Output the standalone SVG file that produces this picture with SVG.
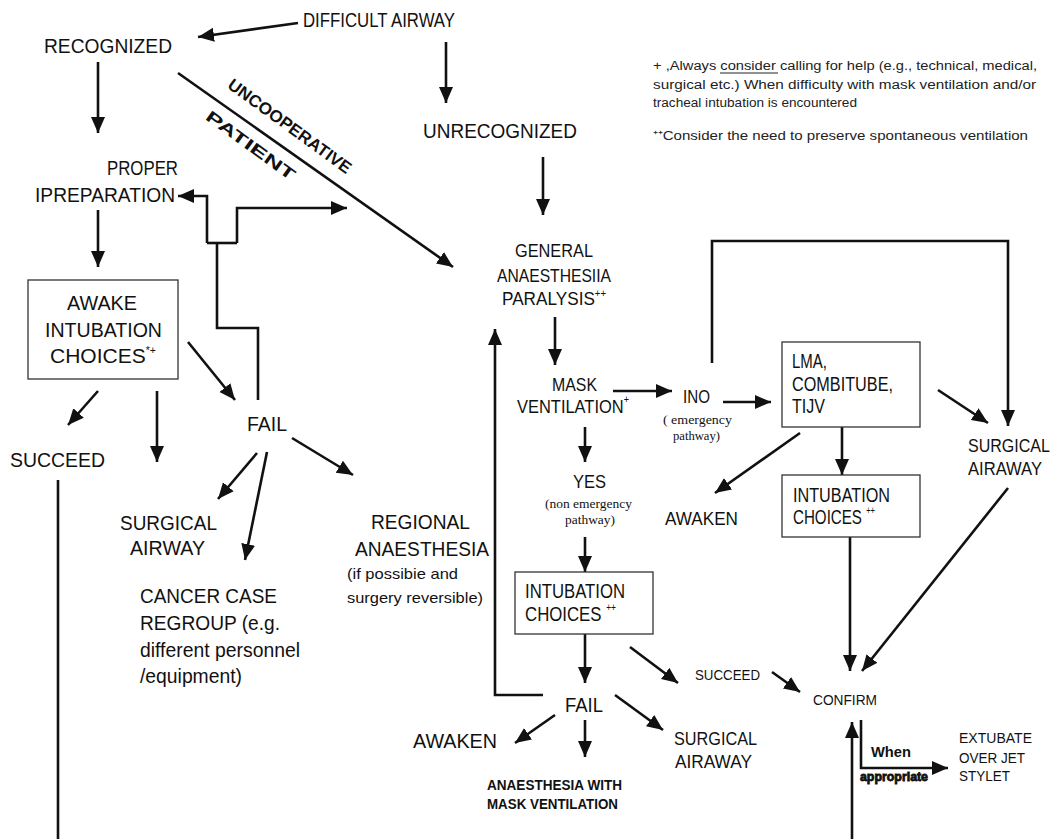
<svg xmlns="http://www.w3.org/2000/svg" width="1062" height="839" viewBox="0 0 1062 839">
<style>
text{font-family:"Liberation Sans",Arial,sans-serif;fill:#111}
.t{font-size:20px}
.m{font-size:18px}
.s{font-size:15px}
.sm{font-size:14px}
.b{font-weight:bold}
.sup{font-size:10px}
.sf{font-family:"Liberation Serif","Times New Roman",serif;font-size:13px}
.note{font-size:12.5px;fill:#222}
.ln{fill:none;stroke:#111;stroke-width:2.6}
.ar{fill:none;stroke:#111;stroke-width:2.6;marker-end:url(#ah)}
.box{fill:#fff;stroke:#333;stroke-width:1.3}
</style>
<defs>
<marker id="ah" markerWidth="17" markerHeight="15" refX="16" refY="7" orient="auto" markerUnits="userSpaceOnUse"><path d="M0,0 L16,7 L0,14 z" fill="#111"/></marker>
</defs>
<rect width="1062" height="839" fill="#fff"/>

<g id="connectors">
<line class="ar" x1="298" y1="23" x2="198" y2="37"/>
<line class="ar" x1="446" y1="42" x2="446" y2="103"/>
<line class="ar" x1="98" y1="62" x2="98" y2="133"/>
<line class="ar" x1="178" y1="73" x2="453" y2="267"/>
<line class="ar" x1="543" y1="157" x2="543" y2="215"/>
<line class="ar" x1="98" y1="210" x2="98" y2="267"/>
<polyline class="ln" points="258,400 258,328 217,328 217,243"/>
<polyline class="ln" points="237,243 207,243"/>
<polyline class="ar" points="207,243 207,196 178,196"/>
<polyline class="ar" points="237,243 237,208 347,208"/>
<line class="ar" x1="188" y1="342" x2="235" y2="400"/>
<line class="ar" x1="98" y1="391" x2="68" y2="425"/>
<line class="ar" x1="157" y1="391" x2="157" y2="462"/>
<line class="ln" x1="58" y1="480" x2="58" y2="839"/>
<line class="ar" x1="257" y1="453" x2="218" y2="499"/>
<line class="ar" x1="267" y1="452" x2="245" y2="560"/>
<line class="ar" x1="292" y1="438" x2="353" y2="475"/>
<line class="ar" x1="555" y1="317" x2="555" y2="365"/>
<polyline class="ar" points="543,695 495,695 495,329"/>
<line class="ar" x1="613" y1="391" x2="672" y2="391"/>
<line class="ar" x1="585" y1="427" x2="585" y2="462"/>
<line class="ar" x1="585" y1="537" x2="585" y2="572"/>
<line class="ar" x1="723" y1="402" x2="771" y2="402"/>
<polyline class="ar" points="712,363 712,241 1008,241 1008,426"/>
<line class="ar" x1="938" y1="390" x2="988" y2="423"/>
<line class="ar" x1="800" y1="433" x2="715" y2="493"/>
<line class="ar" x1="842" y1="427" x2="842" y2="475"/>
<line class="ar" x1="850" y1="537" x2="850" y2="671"/>
<line class="ar" x1="1008" y1="488" x2="862" y2="671"/>
<line class="ar" x1="585" y1="634" x2="585" y2="683"/>
<line class="ar" x1="630" y1="647" x2="678" y2="683"/>
<line class="ar" x1="555" y1="715" x2="515" y2="743"/>
<line class="ar" x1="585" y1="720" x2="585" y2="757"/>
<line class="ar" x1="615" y1="695" x2="663" y2="730"/>
<line class="ar" x1="772" y1="672" x2="800" y2="692"/>
<line class="ar" x1="852" y1="839" x2="852" y2="722"/>
<polyline class="ar" points="861,720 861,768 948,768"/>
<text class="b" font-size="17" transform="translate(290,126) rotate(36)" text-anchor="middle" y="6" textLength="148" lengthAdjust="spacingAndGlyphs">UNCOOPERATIVE</text>
<text class="b" font-size="16" transform="translate(251,145) rotate(36)" text-anchor="middle" y="6" textLength="106" lengthAdjust="spacingAndGlyphs">PATIENT</text>
<text class="sm b" x="871" y="757" textLength="40" lengthAdjust="spacingAndGlyphs">When</text>
<text class="b" font-size="12" x="860" y="781" textLength="68" lengthAdjust="spacingAndGlyphs" stroke="#111" stroke-width="0.8">appropriate</text>
</g>

<g id="n-difficult"><text class="t" x="303" y="27" textLength="152" lengthAdjust="spacingAndGlyphs">DIFFICULT AIRWAY</text></g>
<g id="n-recognized"><text class="t" x="44" y="53" textLength="128" lengthAdjust="spacingAndGlyphs">RECOGNIZED</text></g>
<g id="n-unrecognized"><text class="t" x="423" y="138" textLength="154" lengthAdjust="spacingAndGlyphs">UNRECOGNIZED</text></g>

<g id="n-note">
<text class="note" x="653" y="70" textLength="384" lengthAdjust="spacingAndGlyphs">+ ,Always consider calling for help (e.g., technical, medical,</text>
<line x1="720" y1="73" x2="778" y2="73" stroke="#222" stroke-width="1"/>
<text class="note" x="653" y="89" textLength="383" lengthAdjust="spacingAndGlyphs">surgical etc.) When difficulty with mask ventilation and/or</text>
<text class="note" x="653" y="107" textLength="204" lengthAdjust="spacingAndGlyphs">tracheal intubation is encountered</text>
<text class="note" x="653" y="140" textLength="375" lengthAdjust="spacingAndGlyphs">⁺⁺Consider the need to preserve spontaneous ventilation</text>
</g>

<g id="n-preparation">
<text class="t" x="107" y="175" textLength="71" lengthAdjust="spacingAndGlyphs">PROPER</text>
<text class="t" x="35" y="202" textLength="140" lengthAdjust="spacingAndGlyphs">IPREPARATION</text>
</g>

<g id="n-awake">
<rect class="box" x="28" y="280" width="150" height="99"/>
<text class="t" x="67" y="310" textLength="70" lengthAdjust="spacingAndGlyphs">AWAKE</text>
<text class="t" x="45" y="337" textLength="117" lengthAdjust="spacingAndGlyphs">INTUBATION</text>
<text class="t" x="50" y="363" textLength="106" lengthAdjust="spacingAndGlyphs">CHOICES<tspan class="sup" dy="-9">*+</tspan></text>
</g>

<g id="n-fail1"><text class="t" x="247" y="431" textLength="40" lengthAdjust="spacingAndGlyphs">FAIL</text></g>
<g id="n-succeed1"><text class="t" x="10" y="467" textLength="95" lengthAdjust="spacingAndGlyphs">SUCCEED</text></g>
<g id="n-surgical1">
<text class="t" x="120" y="530" textLength="97" lengthAdjust="spacingAndGlyphs">SURGICAL</text>
<text class="t" x="130" y="555" textLength="75" lengthAdjust="spacingAndGlyphs">AIRWAY</text>
</g>
<g id="n-cancer">
<text class="t" x="140" y="603" textLength="137" lengthAdjust="spacingAndGlyphs">CANCER CASE</text>
<text class="t" x="140" y="630" textLength="140" lengthAdjust="spacingAndGlyphs">REGROUP (e.g.</text>
<text class="t" x="140" y="657" textLength="160" lengthAdjust="spacingAndGlyphs">different personnel</text>
<text class="t" x="140" y="683" textLength="102" lengthAdjust="spacingAndGlyphs">/equipment)</text>
</g>
<g id="n-regional">
<text class="t" x="371" y="529" textLength="99" lengthAdjust="spacingAndGlyphs">REGIONAL</text>
<text class="t" x="355" y="556" textLength="134" lengthAdjust="spacingAndGlyphs">ANAESTHESIA</text>
<text class="s" x="347" y="579" textLength="111" lengthAdjust="spacingAndGlyphs">(if possibie and</text>
<text class="s" x="347" y="603" textLength="136" lengthAdjust="spacingAndGlyphs">surgery reversible)</text>
</g>

<g id="n-general">
<text class="m" x="515" y="257" textLength="78" lengthAdjust="spacingAndGlyphs">GENERAL</text>
<text class="m" x="497" y="282" textLength="114" lengthAdjust="spacingAndGlyphs">ANAESTHESIIA</text>
<text class="m" x="502" y="305" textLength="104" lengthAdjust="spacingAndGlyphs">PARALYSIS<tspan class="sup" dy="-8">++</tspan></text>
</g>
<g id="n-mask">
<text class="m" x="552" y="391" textLength="45" lengthAdjust="spacingAndGlyphs">MASK</text>
<text class="m" x="517" y="413" textLength="112" lengthAdjust="spacingAndGlyphs">VENTILATION<tspan class="sup" font-size="8" dy="-10">+</tspan></text>
</g>
<g id="n-no">
<text class="m" x="683" y="403" textLength="27" lengthAdjust="spacingAndGlyphs">INO</text>
<text class="sf" x="663" y="424" textLength="69" lengthAdjust="spacingAndGlyphs">( emergency</text>
<text class="sf" x="673" y="440" textLength="47" lengthAdjust="spacingAndGlyphs">pathway)</text>
</g>
<g id="n-yes">
<text class="m" x="573" y="488" textLength="33" lengthAdjust="spacingAndGlyphs">YES</text>
<text class="sf" x="545" y="508" textLength="87" lengthAdjust="spacingAndGlyphs">(non emergency</text>
<text class="sf" x="565" y="524" textLength="50" lengthAdjust="spacingAndGlyphs">pathway)</text>
</g>
<g id="n-lma">
<rect class="box" x="782" y="342" width="138" height="85"/>
<text class="t" x="792" y="368" textLength="35" lengthAdjust="spacingAndGlyphs">LMA,</text>
<text class="t" x="792" y="391" textLength="101" lengthAdjust="spacingAndGlyphs">COMBITUBE,</text>
<text class="t" x="792" y="413" textLength="33" lengthAdjust="spacingAndGlyphs">TIJV</text>
</g>
<g id="n-surgical2">
<text class="m" x="968" y="452" textLength="82" lengthAdjust="spacingAndGlyphs">SURGICAL</text>
<text class="m" x="968" y="475" textLength="74" lengthAdjust="spacingAndGlyphs">AIRAWAY</text>
</g>
<g id="n-awaken1"><text class="m" x="665" y="525" textLength="73" lengthAdjust="spacingAndGlyphs">AWAKEN</text></g>
<g id="n-intub2">
<rect class="box" x="782" y="475" width="138" height="62"/>
<text class="t" x="793" y="502" textLength="97" lengthAdjust="spacingAndGlyphs">INTUBATION</text>
<text class="t" x="793" y="524" textLength="82" lengthAdjust="spacingAndGlyphs">CHOICES <tspan class="sup" dy="-10">++</tspan></text>
</g>
<g id="n-intub1">
<rect class="box" x="515" y="572" width="138" height="62"/>
<text class="t" x="525" y="598" textLength="100" lengthAdjust="spacingAndGlyphs">INTUBATION</text>
<text class="t" x="525" y="621" textLength="91" lengthAdjust="spacingAndGlyphs">CHOICES <tspan class="sup" dy="-10">++</tspan></text>
</g>
<g id="n-fail2"><text class="t" x="565" y="712" textLength="38" lengthAdjust="spacingAndGlyphs">FAIL</text></g>
<g id="n-awaken2"><text class="t" x="413" y="748" textLength="84" lengthAdjust="spacingAndGlyphs">AWAKEN</text></g>
<g id="n-surgical3">
<text class="m" x="674" y="745" textLength="83" lengthAdjust="spacingAndGlyphs">SURGICAL</text>
<text class="m" x="675" y="768" textLength="77" lengthAdjust="spacingAndGlyphs">AIRAWAY</text>
</g>
<g id="n-maskanaes">
<text class="sm b" x="487" y="790" textLength="135" lengthAdjust="spacingAndGlyphs">ANAESTHESIA WITH</text>
<text class="sm b" x="487" y="809" textLength="131" lengthAdjust="spacingAndGlyphs">MASK VENTILATION</text>
</g>
<g id="n-succeed2"><text class="sm" x="695" y="680" textLength="65" lengthAdjust="spacingAndGlyphs">SUCCEED</text></g>
<g id="n-confirm"><text class="sm" x="813" y="705" textLength="64" lengthAdjust="spacingAndGlyphs">CONFIRM</text></g>
<g id="n-extubate">
<text class="s" x="959" y="743" textLength="73" lengthAdjust="spacingAndGlyphs">EXTUBATE</text>
<text class="s" x="959" y="763" textLength="66" lengthAdjust="spacingAndGlyphs">OVER JET</text>
<text class="s" x="959" y="781" textLength="51" lengthAdjust="spacingAndGlyphs">STYLET</text>
</g>
</svg>
